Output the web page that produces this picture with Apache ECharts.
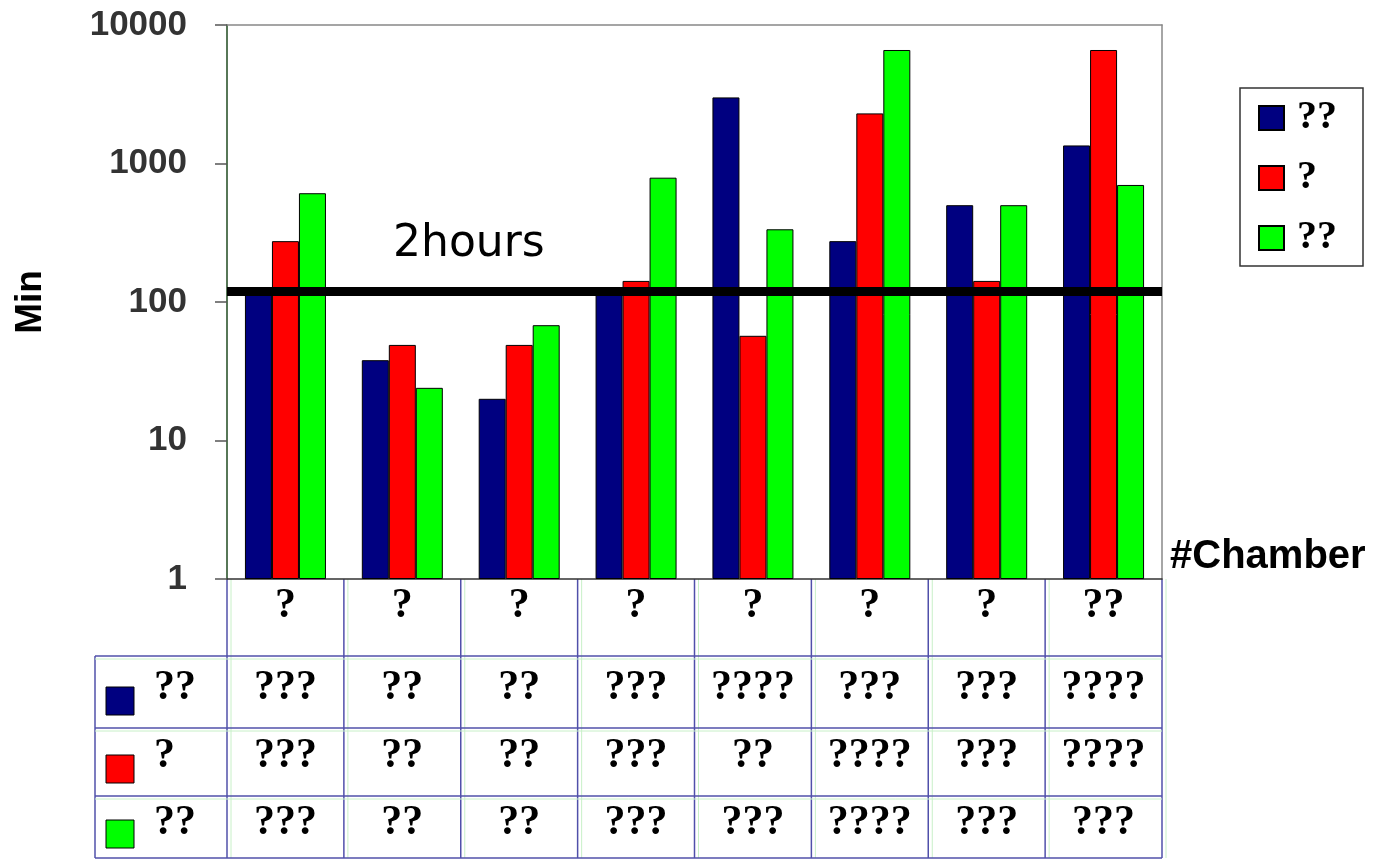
<!DOCTYPE html>
<html>
<head>
<meta charset="utf-8">
<script src="https://cdn.jsdelivr.net/npm/echarts@6/dist/echarts.min.js"></script>
<style>
html,body{margin:0;padding:0;background:#fff;}
#c{width:1377px;height:859px;}
</style>
</head>
<body>
<div id="c"></div>
<script>
// ---- data ----
const categories = ['?', '?', '?', '?', '?', '?', '?', '??'];
const seriesLabels = ['??', '?', '??'];
const seriesColors = ['#000080', '#ff0000', '#00ff00'];
const navyValues = [118, 38, 20, 115, 3000, 275, 500, 1350];
const redValues = [275, 49, 49, 142, 57, 2300, 142, 6600];
const greenValues = [610, 24, 68, 790, 335, 6600, 500, 700];
const navyCells = ['???', '??', '??', '???', '????', '???', '???', '????'];
const redCells = ['???', '??', '??', '???', '??', '????', '???', '????'];
const greenCells = ['???', '??', '??', '???', '???', '????', '???', '???'];
const yTicks = [1, 10, 100, 1000, 10000];
const twoHoursValue = 120;
const twoHoursLabel = '2hours';
const xAxisName = '#Chamber';
const yAxisName = 'Min';

const seriesValues = [navyValues, redValues, greenValues];
const tableCells = [navyCells, redCells, greenCells];

const chart = echarts.init(document.getElementById('c'), null, {renderer: 'canvas'});

const serifBold = {fontFamily: 'Liberation Serif', fontWeight: 'bold'};
const cellFont = 42;

const series = seriesValues.map((vals, i) => ({
  name: 's' + i,
  type: 'bar',
  data: vals,
  barWidth: 27,
  barGap: '0%',
  itemStyle: {color: seriesColors[i], borderColor: '#000', borderWidth: 1},
  emphasis: {disabled: true},
  z: 2
}));

series[0].markLine = {
  silent: true,
  symbol: ['none', 'none'],
  z: 5,
  lineStyle: {color: '#000', width: 9, type: 'solid'},
  label: {
    show: true,
    position: 'insideStartTop',
    formatter: twoHoursLabel,
    fontFamily: 'DejaVu Sans',
    fontSize: 44,
    color: '#000',
    distance: [166, 24]
  },
  data: [{yAxis: twoHoursValue}]
};

const option = {
  animation: false,
  backgroundColor: '#fff',
  grid: {left: 227, right: 215, top: 25, bottom: 280, containLabel: false, outerBoundsMode: 'none'},
  legend: {
    orient: 'vertical',
    left: 1240,
    top: 88,
    padding: [10, 26, 8, 18],
    itemGap: 20,
    itemWidth: 25,
    itemHeight: 24,
    borderColor: '#333',
    borderWidth: 1.5,
    icon: 'rect',
    data: series.map(s => s.name),
    formatter: name => seriesLabels[Number(name.slice(1))],
    textStyle: Object.assign({fontSize: 40, lineHeight: 38, color: '#000', padding: [0, 0, 0, 8]}, serifBold),
    selectedMode: false
  },
  xAxis: [{
    type: 'category',
    data: categories,
    axisLine: {show: true, lineStyle: {color: '#333', width: 1.5}},
    axisTick: {show: false},
    axisLabel: Object.assign({fontSize: cellFont, color: '#000', margin: 6, interval: 0}, serifBold),
    name: xAxisName,
    nameLocation: 'end',
    nameGap: 8,
    nameTextStyle: {fontFamily: 'Liberation Sans', fontWeight: 'bold', fontSize: 40, color: '#000', verticalAlign: 'bottom', padding: [0, 0, 2, 0]}
  }, {
    type: 'category',
    position: 'top',
    data: categories,
    axisLine: {show: true, lineStyle: {color: '#888', width: 1.5}},
    axisTick: {show: false},
    axisLabel: {show: false}
  }],
  yAxis: [{
    type: 'log',
    logBase: 10,
    min: 1,
    max: 10000,
    axisLine: {show: true, lineStyle: {color: '#1f4a1f', width: 1.5}},
    axisTick: {show: true, length: 12, lineStyle: {color: '#555', width: 1.5}},
    axisLabel: {fontFamily: 'Liberation Sans', fontWeight: 'bold', fontSize: 35, color: '#333', margin: 40,
      formatter: v => String(yTicks.find(t => Math.abs(t - v) < 1e-6 * t) ?? v)},
    splitLine: {show: false},
    name: yAxisName,
    nameLocation: 'middle',
    nameRotate: 90,
    nameGap: 178,
    nameTextStyle: {fontFamily: 'Liberation Sans', fontWeight: 'bold', fontSize: 37, color: '#000'}
  }, {
    type: 'log',
    logBase: 10,
    min: 1,
    max: 10000,
    position: 'right',
    axisLine: {show: true, lineStyle: {color: '#888', width: 1.5}},
    axisTick: {show: false},
    axisLabel: {show: false},
    splitLine: {show: false}
  }],
  series: series
};

chart.setOption(option);

// ---- data table below the plot, positioned from the category axis ----
function buildTable() {
  const c0 = chart.convertToPixel({xAxisIndex: 0}, 0);
  const c1 = chart.convertToPixel({xAxisIndex: 0}, 1);
  const band = c1 - c0;
  const axisY = chart.convertToPixel({yAxisIndex: 0}, 1);
  const centers = categories.map((_, i) => chart.convertToPixel({xAxisIndex: 0}, i));
  const gridLeft = centers[0] - band / 2;
  const gridRight = centers[centers.length - 1] + band / 2;
  const tableLeft = 95;
  const rowTops = [656, 728, 796];
  const tableBottom = 858;
  const lineStyle = {stroke: '#5050aa', lineWidth: 1.5};
  const faint = {stroke: '#c8f0c8', lineWidth: 1};
  const els = [];
  for (let i = 0; i <= categories.length; i++) {
    const x = gridLeft + i * band;
    els.push({type: 'line', shape: {x1: x + 4, y1: axisY, x2: x + 4, y2: tableBottom}, style: faint, silent: true});
    els.push({type: 'line', shape: {x1: x, y1: axisY, x2: x, y2: tableBottom}, style: lineStyle, silent: true});
  }
  els.push({type: 'line', shape: {x1: tableLeft, y1: rowTops[0], x2: tableLeft, y2: tableBottom}, style: lineStyle, silent: true});
  rowTops.concat([tableBottom]).forEach(y => {
    els.push({type: 'line', shape: {x1: tableLeft, y1: y + 3, x2: gridRight, y2: y + 3}, style: faint, silent: true});
    els.push({type: 'line', shape: {x1: tableLeft, y1: y, x2: gridRight, y2: y}, style: lineStyle, silent: true});
  });
  const sqOffsets = [31, 27, 24];
  const txtOffsets = [30, 26, 25];
  rowTops.forEach((top, r) => {
    els.push({type: 'rect', shape: {x: 106, y: top + sqOffsets[r], width: 28, height: 28},
      style: {fill: seriesColors[r], stroke: '#000', lineWidth: 1}, silent: true});
    els.push({type: 'text', x: 154, y: top + txtOffsets[r] + 2,
      style: Object.assign({text: seriesLabels[r], fontSize: cellFont, fill: '#000', align: 'left', verticalAlign: 'middle'}, serifBold), silent: true});
    tableCells[r].forEach((txt, i) => {
      els.push({type: 'text', x: centers[i], y: top + txtOffsets[r] + 2,
        style: Object.assign({text: txt, fontSize: cellFont, fill: '#000', align: 'center', verticalAlign: 'middle'}, serifBold), silent: true});
    });
  });
  chart.setOption({graphic: {elements: els}});
}
buildTable();
</script>
</body>
</html>
